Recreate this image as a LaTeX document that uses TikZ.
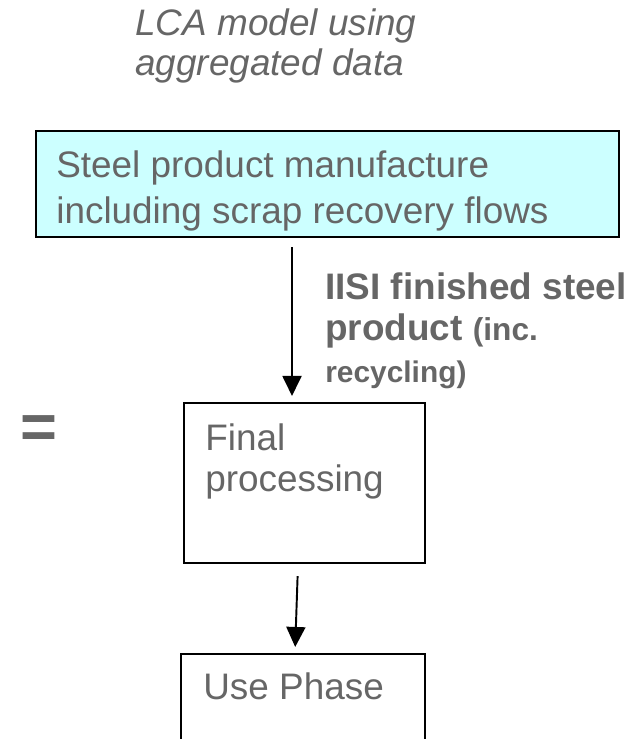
\documentclass[tikz,border=0pt]{standalone}
\usepackage{fontspec}
\setmainfont{Liberation Sans}
\usepackage{xcolor}
\usetikzlibrary{arrows.meta}

\definecolor{txtgray}{HTML}{666666}
\definecolor{stepcyan}{HTML}{CCFFFF}

\begin{document}
\begin{tikzpicture}[x=0.02cm, y=-0.02cm,
    procbox/.style={draw=black, line width=1.2pt, inner sep=0pt},
    txt/.style={text=txtgray, anchor=base west, align=left, inner sep=0pt},
    flow/.style={line width=1.1pt, -{Triangle[length=0.4cm, width=0.38cm]}},
]
\clip (0,0) rectangle (637,739);

% Title (base = last line)
\node[txt, font=\itshape\fontsize{21}{23.3}\selectfont] (title) at (135,76) {LCA model using\\aggregated data};

% Boxes
\node[procbox, fill=stepcyan, minimum width=11.66cm, minimum height=2.12cm] (steel) at (327.5,184) {};
\node[procbox, minimum width=4.82cm, minimum height=3.2cm] (final) at (304.5,483) {};
\node[procbox, minimum width=4.88cm, minimum height=2.52cm] (use) at (303,717) {};

% Box texts
\node[txt, font=\fontsize{21}{26.5}\selectfont] (steeltxt) at (56,224) {Steel product manufacture\\including scrap recovery flows};
\node[txt, font=\fontsize{21}{23.3}\selectfont] (finaltxt) at (205,491) {Final\\processing};
\node[txt, font=\fontsize{21}{23.3}\selectfont] (usetxt) at (203,699) {Use Phase};

% Equals sign
\node[text=txtgray, font=\bfseries\fontsize{36}{36}\selectfont, inner sep=0pt] (eq) at (39,432) {=};

% Flow arrows
\coordinate (a1) at (292,0);
\coordinate (a2s) at (298,0);
\coordinate (a2e) at (295,0);
\draw[flow, shorten <=0.18cm, shorten >=0.12cm] (steel.south -| a1) -- (final.north -| a1);
\draw[flow, shorten <=0.24cm, shorten >=0.12cm] (final.south -| a2s) -- (use.north -| a2e);

% Flow label
\node[txt, font=\bfseries\fontsize{21}{23.6}\selectfont] (flowlbl) at (325,382) {IISI finished steel\\product {\fontsize{18}{23.6}\selectfont (inc.}\\{\fontsize{17}{23.6}\selectfont recycling)}};

\end{tikzpicture}
\end{document}
